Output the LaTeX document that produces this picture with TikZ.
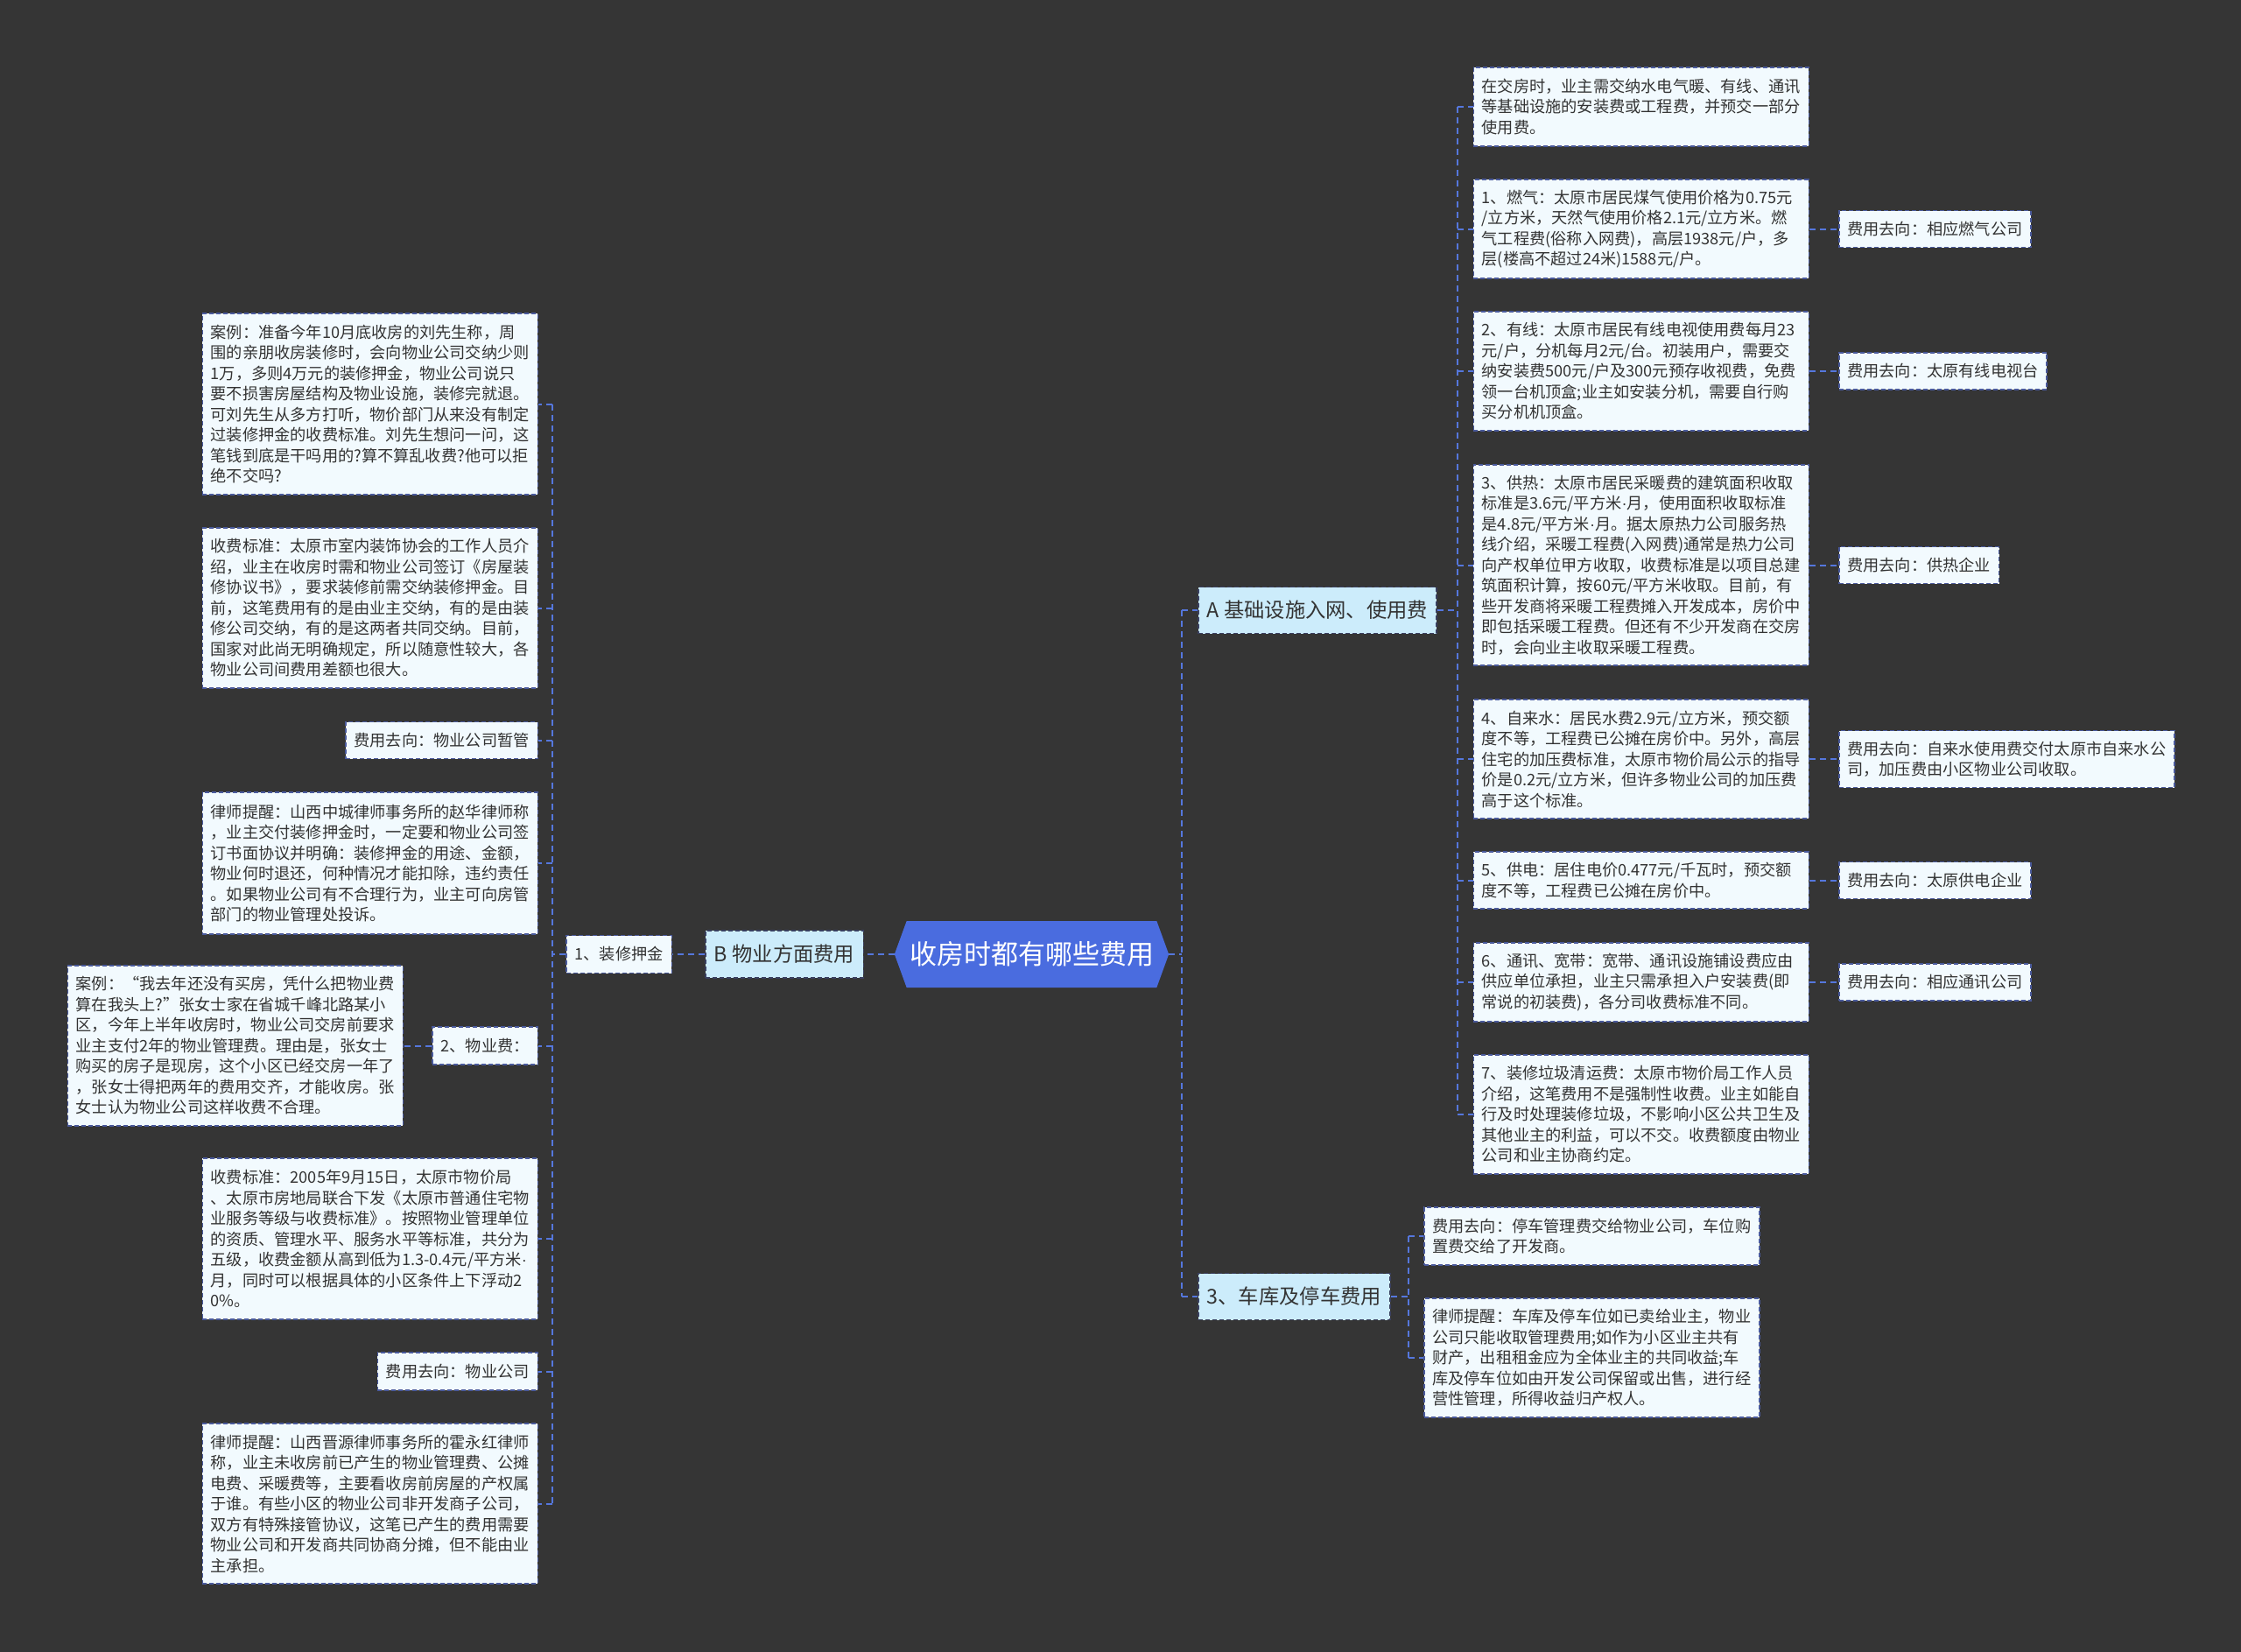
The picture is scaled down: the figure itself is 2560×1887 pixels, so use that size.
\documentclass[tikz,border=0pt]{standalone}
\usepackage{fontspec}
\newfontfamily\cjk{Noto Sans CJK SC}
\newfontfamily\lat{Liberation Sans}
\newcommand{\mdot}{{\lat ·}}
\usetikzlibrary{shapes.symbols}
\definecolor{bg}{HTML}{353535}
\definecolor{leaffill}{HTML}{F2FAFE}
\definecolor{leafborder}{HTML}{4A5A9C}
\definecolor{topicfill}{HTML}{CCECFB}
\definecolor{topicborder}{HTML}{3A4060}
\definecolor{rootblue}{HTML}{4A6CDF}
\definecolor{connblue}{HTML}{5577DD}
\definecolor{txt}{HTML}{333333}
\begin{document}
\begin{tikzpicture}[x=1pt,y=-1pt,
  mmbase/.style={draw=leafborder, line width=1.5pt, dash pattern=on 5pt off 3pt, text=txt},
  mmleaf/.style={mmbase, fill=leaffill, font=\cjk\fontsize{18.2}{23.5}\selectfont, text width=364pt, align=left, inner xsep=9.5pt, inner ysep=3pt},
  mmtag/.style={mmbase, fill=leaffill, font=\cjk\fontsize{18.2}{23.5}\selectfont, inner xsep=9.5pt, inner ysep=3pt, minimum height=42pt},
  mmtopic/.style={mmbase, draw=topicborder, fill=topicfill, font=\cjk\fontsize{23.3}{28}\selectfont, inner xsep=10pt, minimum height=53pt},
  mmroot/.style={signal, signal to=west and east, signal pointer angle=140, fill=rootblue, text=white, font=\cjk\fontsize{31}{36}\selectfont, minimum width=311pt, minimum height=76pt},
  mmconn/.style={draw=connblue, line width=2pt, dash pattern=on 7pt off 5pt}]
\useasboundingbox (0,0) rectangle (2560,1887);
\fill[bg] (0,0) rectangle (2560,1887);

% root and topics
\node[mmroot] (root) at (1178.5,1090) {收房时都有哪些费用};
\node[mmtopic, anchor=west] (A) at (1368,697) {A 基础设施入网、使用费};
\node[mmtopic, anchor=west] (P) at (1368,1481) {3、车库及停车费用};
\node[mmtopic, anchor=east, minimum height=54pt] (B) at (987,1090) {B 物业方面费用};

% left side
\node[mmtag, anchor=east, minimum height=43pt] (L1) at (768,1090) {1、装修押金};
\node[mmtag, anchor=east, minimum height=43pt] (L2) at (615,1194.5) {2、物业费：};

\node[mmleaf, anchor=east, minimum height=207pt] (c1) at (615,461.5) {案例：准备今年10月底收房的刘先生称，周\\围的亲朋收房装修时，会向物业公司交纳少则\\1万，多则4万元的装修押金，物业公司说只\\要不损害房屋结构及物业设施，装修完就退。\\可刘先生从多方打听，物价部门从来没有制定\\过装修押金的收费标准。刘先生想问一问，这\\笔钱到底是干吗用的?算不算乱收费?他可以拒\\绝不交吗?};
\node[mmleaf, anchor=east, minimum height=183pt] (s1) at (615,694.5) {收费标准：太原市室内装饰协会的工作人员介\\绍，业主在收房时需和物业公司签订《房屋装\\修协议书》，要求装修前需交纳装修押金。目\\前，这笔费用有的是由业主交纳，有的是由装\\修公司交纳，有的是这两者共同交纳。目前，\\国家对此尚无明确规定，所以随意性较大，各\\物业公司间费用差额也很大。};
\node[mmtag, anchor=east] (d1l) at (615,845.5) {费用去向：物业公司暂管};
\node[mmleaf, anchor=east, minimum height=162pt] (w1) at (615,986) {律师提醒：山西中城律师事务所的赵华律师称\\，业主交付装修押金时，一定要和物业公司签\\订书面协议并明确：装修押金的用途、金额，\\物业何时退还，何种情况才能扣除，违约责任\\。如果物业公司有不合理行为，业主可向房管\\部门的物业管理处投诉。};
\node[mmleaf, anchor=east, minimum height=183pt] (c2) at (461,1194.5) {案例：“我去年还没有买房，凭什么把物业费\\算在我头上?”张女士家在省城千峰北路某小\\区，今年上半年收房时，物业公司交房前要求\\业主支付2年的物业管理费。理由是，张女士\\购买的房子是现房，这个小区已经交房一年了\\，张女士得把两年的费用交齐，才能收房。张\\女士认为物业公司这样收费不合理。};
\node[mmleaf, anchor=east, minimum height=184pt] (s2) at (615,1415) {收费标准：2005年9月15日，太原市物价局\\、太原市房地局联合下发《太原市普通住宅物\\业服务等级与收费标准》。按照物业管理单位\\的资质、管理水平、服务水平等标准，共分为\\\mbox{五级，收费金额从高到低为1.3-0.4元/平方米\mdot}\\月，同时可以根据具体的小区条件上下浮动2\\0\%。};
\node[mmtag, anchor=east, minimum height=43pt] (d2l) at (615,1566.5) {费用去向：物业公司};
\node[mmleaf, anchor=east, minimum height=183pt] (w2) at (615,1717.5) {律师提醒：山西晋源律师事务所的霍永红律师\\称，业主未收房前已产生的物业管理费、公摊\\电费、采暖费等，主要看收房前房屋的产权属\\于谁。有些小区的物业公司非开发商子公司，\\双方有特殊接管协议，这笔已产生的费用需要\\物业公司和开发商共同协商分摊，但不能由业\\主承担。};

% right side
\node[mmleaf, anchor=west, minimum height=90pt] (r0) at (1682.5,122) {在交房时，业主需交纳水电气暖、有线、通讯\\等基础设施的安装费或工程费，并预交一部分\\使用费。};
\node[mmleaf, anchor=west, minimum height=113pt] (r1) at (1682.5,261.5) {\mbox{1、燃气：太原市居民煤气使用价格为0.75元}\\/立方米，天然气使用价格2.1元/立方米。燃\\气工程费(俗称入网费)，高层1938元/户，多\\层(楼高不超过24米)1588元/户。};
\node[mmleaf, anchor=west, minimum height=136pt] (r2) at (1682.5,424) {2、有线：太原市居民有线电视使用费每月23\\元/户，分机每月2元/台。初装用户，需要交\\纳安装费500元/户及300元预存收视费，免费\\领一台机顶盒;业主如安装分机，需要自行购\\买分机机顶盒。};
\node[mmleaf, anchor=west, minimum height=229pt] (r3) at (1682.5,645.5) {3、供热：太原市居民采暖费的建筑面积收取\\\mbox{标准是3.6元/平方米\mdot 月，使用面积收取标准}\\\mbox{是4.8元/平方米\mdot 月。据太原热力公司服务热}\\线介绍，采暖工程费(入网费)通常是热力公司\\向产权单位甲方收取，收费标准是以项目总建\\筑面积计算，按60元/平方米收取。目前，有\\些开发商将采暖工程费摊入开发成本，房价中\\即包括采暖工程费。但还有不少开发商在交房\\时，会向业主收取采暖工程费。};
\node[mmleaf, anchor=west, minimum height=136pt] (r4) at (1682.5,867) {4、自来水：居民水费2.9元/立方米，预交额\\度不等，工程费已公摊在房价中。另外，高层\\住宅的加压费标准，太原市物价局公示的指导\\价是0.2元/立方米，但许多物业公司的加压费\\高于这个标准。};
\node[mmleaf, anchor=west, minimum height=65pt] (r5) at (1682.5,1005.5) {5、供电：居住电价0.477元/千瓦时，预交额\\度不等，工程费已公摊在房价中。};
\node[mmleaf, anchor=west, minimum height=90pt] (r6) at (1682.5,1122) {6、通讯、宽带：宽带、通讯设施铺设费应由\\供应单位承担，业主只需承担入户安装费(即\\常说的初装费)，各分司收费标准不同。};
\node[mmleaf, anchor=west, minimum height=136pt] (r7) at (1682.5,1273) {7、装修垃圾清运费：太原市物价局工作人员\\介绍，这笔费用不是强制性收费。业主如能自\\行及时处理装修垃圾，不影响小区公共卫生及\\其他业主的利益，可以不交。收费额度由物业\\公司和业主协商约定。};

\node[mmtag, anchor=west] (d1) at (2100,261.5) {费用去向：相应燃气公司};
\node[mmtag, anchor=west] (d2) at (2100,424) {费用去向：太原有线电视台};
\node[mmtag, anchor=west] (d3) at (2100,645.5) {费用去向：供热企业};
\node[mmleaf, anchor=west, minimum height=65pt] (d4) at (2100,867) {费用去向：自来水使用费交付太原市自来水公\\司，加压费由小区物业公司收取。};
\node[mmtag, anchor=west] (d5) at (2100,1005.5) {费用去向：太原供电企业};
\node[mmtag, anchor=west] (d6) at (2100,1122) {费用去向：相应通讯公司};

\node[mmleaf, anchor=west, minimum height=66pt] (p1) at (1626,1412) {费用去向：停车管理费交给物业公司，车位购\\置费交给了开发商。};
\node[mmleaf, anchor=west, minimum height=136pt] (p2) at (1626,1551) {律师提醒：车库及停车位如已卖给业主，物业\\公司只能收取管理费用;如作为小区业主共有\\财产，出租租金应为全体业主的共同收益;车\\库及停车位如由开发公司保留或出售，进行经\\营性管理，所得收益归产权人。};

% connectors
\coordinate (rt) at (1350,1090);
\draw[mmconn] (root.east) -- (rt);
\draw[mmconn] (rt |- A.west) -- (rt |- P.west);
\draw[mmconn] (rt |- A.west) -- (A.west);
\draw[mmconn] (rt |- P.west) -- (P.west);
\draw[mmconn] (root.west) -- (B.east);
\draw[mmconn] (B.west) -- (L1.east);

\coordinate (at) at (1665,697);
\draw[mmconn] (A.east) -- (at);
\draw[mmconn] (at |- r0.west) -- (at |- r7.west);
\foreach \n in {r0,r1,r2,r3,r4,r5,r6,r7}
  \draw[mmconn] (at |- \n.west) -- (\n.west);
\foreach \a/\b in {r1/d1,r2/d2,r3/d3,r4/d4,r5/d5,r6/d6}
  \draw[mmconn] (\a.east) -- (\b.west);

\coordinate (ptr) at (1609,1481);
\draw[mmconn] (P.east) -- (ptr);
\draw[mmconn] (ptr |- p1.west) -- (ptr |- p2.west);
\draw[mmconn] (ptr |- p1.west) -- (p1.west);
\draw[mmconn] (ptr |- p2.west) -- (p2.west);

\coordinate (lt) at (631,1090);
\draw[mmconn] (L1.west) -- (lt);
\draw[mmconn] (lt |- c1.east) -- (lt |- w2.east);
\foreach \n in {c1,s1,d1l,w1,L2,s2,d2l,w2}
  \draw[mmconn] (lt |- \n.east) -- (\n.east);
\draw[mmconn] (L2.west) -- (c2.east);
\end{tikzpicture}
\end{document}
